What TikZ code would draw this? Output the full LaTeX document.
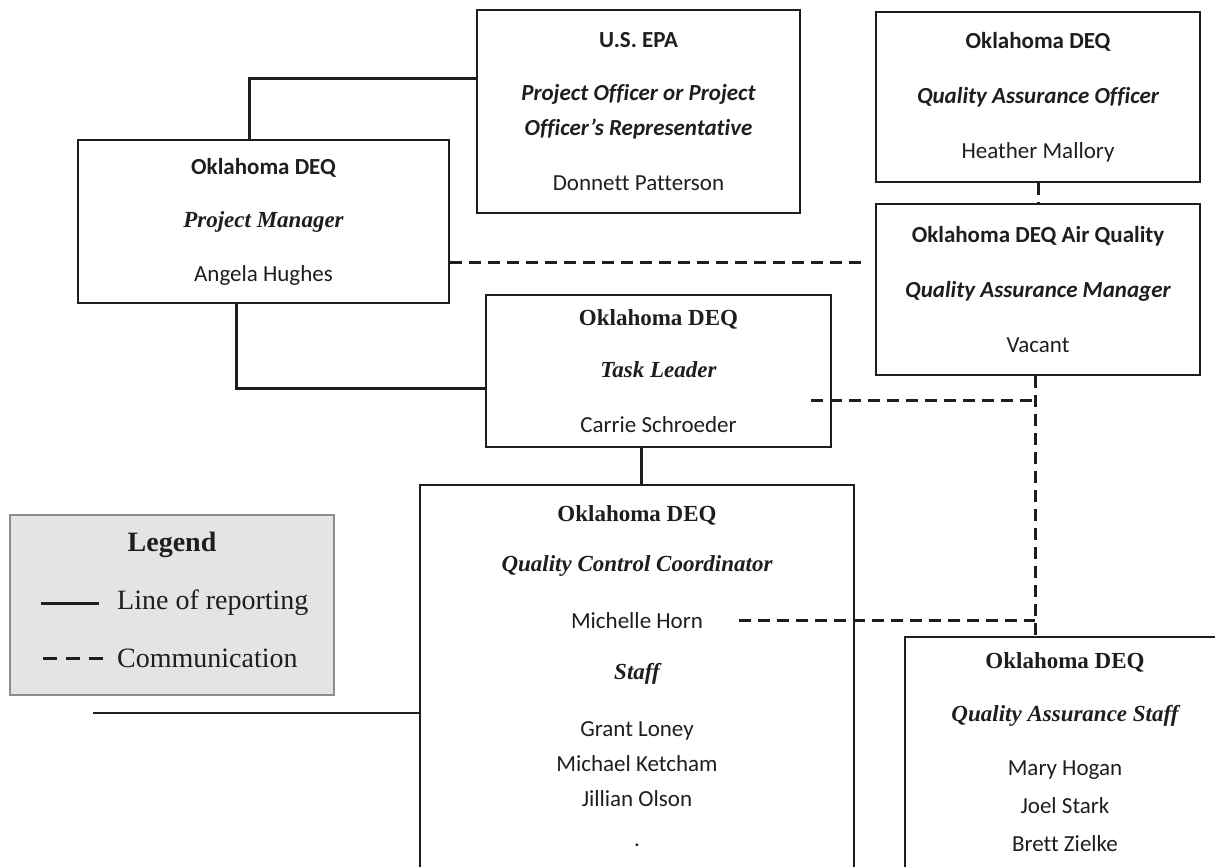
\documentclass[tikz,border=0pt]{standalone}
\usepackage{fontspec}
\setmainfont{Carlito}[Ligatures=NoCommon]
\newfontfamily\timesfont{Liberation Serif}
\usepackage{tikz}

\definecolor{ink}{HTML}{1E1E1E}
\definecolor{legendfill}{HTML}{E4E4E4}
\definecolor{legendline}{HTML}{8C8C8C}

\newcommand{\tmsb}{\timesfont\bfseries}
\newcommand{\tmsbi}{\timesfont\bfseries\itshape}
\newcommand{\calbi}{\bfseries\itshape}

\tikzset{
  box/.style={draw=ink, line width=2pt, inner sep=0pt, align=center, text=ink,
    font=\fontsize{23}{28}\selectfont},
  boxtext/.style={inner sep=0pt, align=center, text=ink,
    font=\fontsize{23}{28}\selectfont},
  report/.style={draw=ink, line width=3pt},
  comm/.style={draw=ink, line width=3pt, dash pattern=on 12pt off 7pt},
  legendtext/.style={inner sep=0pt, text=ink, font=\fontsize{28}{32}\selectfont\timesfont},
}

\begin{document}
\begin{tikzpicture}[x=1pt,y=-1pt]
\useasboundingbox (0,0) rectangle (1215,867);
\clip (0,0) rectangle (1215,867);

% boxes of the upper rows
\node[box, minimum width=323pt, minimum height=203pt] (epa) at (638.5,111.5)
  {{\bfseries U.S. EPA}\\[25pt]
   {\calbi Project Officer or Project}\\[7pt]
   {\calbi Officer’s Representative}\\[27pt]
   Donnett Patterson};
\node[box, minimum width=324pt, minimum height=170pt] (qa) at (1038,97)
  {{\bfseries Oklahoma DEQ}\\[27pt]
   {\calbi Quality Assurance Officer}\\[27pt]
   Heather Mallory};
\node[box, minimum width=324pt, minimum height=171pt] (aq) at (1038,289.5)
  {{\bfseries Oklahoma DEQ Air Quality}\\[27pt]
   {\calbi Quality Assurance Manager}\\[27pt]
   Vacant};
\node[box, minimum width=371pt, minimum height=163pt] (pm) at (263.5,221.5)
  {{\bfseries Oklahoma DEQ}\\[25.5pt]
   {\tmsbi Project Manager}\\[25.5pt]
   Angela Hughes};
\node[box, minimum width=345pt, minimum height=152pt] (tl) at (658.5,371)
  {{\tmsb Oklahoma DEQ}\\[24pt]
   {\tmsbi Task Leader}\\[27pt]
   Carrie Schroeder};

% boxes running off the page
\node[box, minimum width=434pt, minimum height=420pt, anchor=north] (qc) at (637,484) {};
\node[boxtext, anchor=north] (qctext) at (637,505)
  {{\tmsb Oklahoma DEQ}\\[22pt]
   {\tmsbi Quality Control Coordinator}\\[29pt]
   Michelle Horn\\[23pt]
   {\tmsbi Staff}\\[29pt]
   Grant Loney\\[7pt]
   Michael Ketcham\\[7pt]
   Jillian Olson\\[12pt]
   .};
\node[box, minimum width=320pt, minimum height=264pt, anchor=north] (staff) at (1065,636) {};
\node[boxtext, anchor=north] (stafftext) at (1065,652)
  {{\tmsb Oklahoma DEQ}\\[25pt]
   {\tmsbi Quality Assurance Staff}\\[26pt]
   Mary Hogan\\[10pt]
   Joel Stark\\[10pt]
   Brett Zielke};

% legend
\node[draw=legendline, fill=legendfill, line width=1.5pt, minimum width=324pt,
  minimum height=180pt, inner sep=0pt] (legend) at (172,605) {};
\node[legendtext, font=\fontsize{28}{32}\selectfont\tmsb] (legendtitle) at (172,545) {Legend};
\node[legendtext, anchor=west] (lor) at (117,603) {Line of reporting};
\node[legendtext, anchor=west] (lcomm) at (117,658) {Communication};
\draw[report] ([xshift=-18pt]lor.west) -- ++(-58,0);
\draw[comm, dash pattern=on 14pt off 9pt] ([xshift=-14pt]lcomm.west) -- ++(-60,0);

% line of reporting
\draw[report] ([yshift=33.5pt]epa.west) -| ([xshift=-14.5pt]pm.north);
\draw[report] ([xshift=-27.5pt]pm.south) |- ([yshift=-17pt]tl.west);
\draw[report] ([xshift=-17.5pt]tl.south) -- ([xshift=-17.5pt]tl.south |- qc.north);
\coordinate (stub) at (93,713);
\draw[draw=ink, line width=2pt] (stub) -- (stub -| qc.west);

% communication
\coordinate (pmcomm) at ([yshift=-40.5pt]pm.east);
\draw[comm, shorten >=13pt] (pmcomm) -- (pmcomm -| aq.west);
\draw[comm] (qa.south) -- (aq.north);
\draw[comm] ([xshift=-3pt]aq.south) -- ([xshift=-3pt]aq.south |- staff.north);
\coordinate (tlcomm) at ([xshift=-21pt,yshift=-29pt]tl.east);
\draw[comm] (tlcomm) -- ([xshift=-3pt]tlcomm -| aq.south);
\coordinate (qccomm) at (739,620);
\draw[comm] (qccomm) -- ([xshift=-3pt]qccomm -| aq.south);

\end{tikzpicture}
\end{document}
